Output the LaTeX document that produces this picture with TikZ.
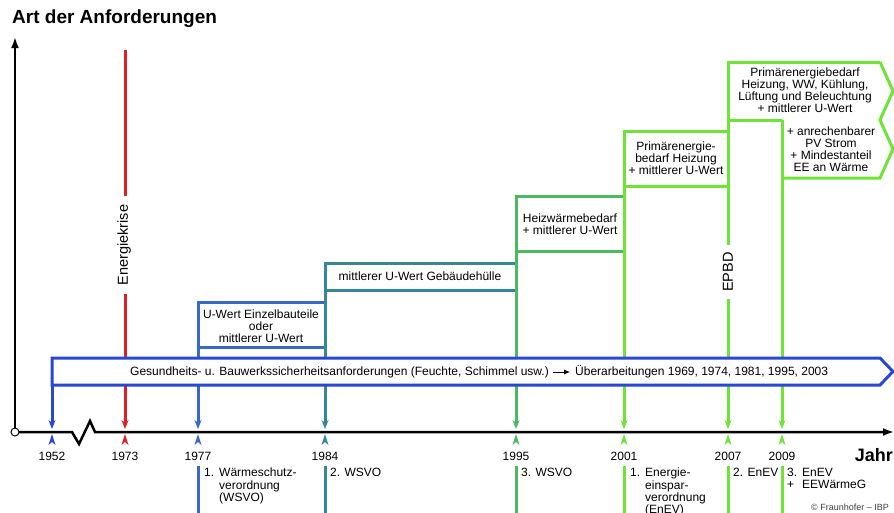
\documentclass[tikz,border=0pt]{standalone}
\usepackage{fontspec}
\setmainfont{Liberation Sans}
\usetikzlibrary{arrows.meta}
\definecolor{cBand}{RGB}{40,70,215}
\definecolor{cBlue}{RGB}{55,105,200}
\definecolor{cTeal}{RGB}{55,135,155}
\definecolor{cGreen}{RGB}{75,185,95}
\definecolor{cLG}{RGB}{110,228,55}
\definecolor{cRed}{RGB}{225,30,35}
\tikzset{
  txt/.style={font=\fontsize{12}{12}\selectfont, inner sep=0pt},
  lowtxt/.style={font=\fontsize{12}{11.5}\selectfont, inner sep=0pt, anchor=north west},
  yrline/.style={line width=3pt, -{Stealth[length=9pt,width=7pt]}},
  boxline/.style={line width=3pt},
  lowline/.style={line width=3pt},
  axisline/.style={line width=2.5pt, line join=miter},
  rottxt/.style={font=\fontsize{14.5}{15}\selectfont, rotate=90, fill=white, inner ysep=1pt},
}
\newcommand{\uptri}[2]{\fill[#1] (#2-3.5,445) -- (#2,434) -- (#2+3.5,445) -- (#2,442) -- cycle;}
\begin{document}
\begin{tikzpicture}[x=1pt,y=-1pt]
\useasboundingbox (0,0) rectangle (894,512);
\clip (0,0) rectangle (894,512);

% title
\node[font=\bfseries\fontsize{19}{21}\selectfont, anchor=west, inner sep=0pt] (title) at (12,19) {Art der Anforderungen};

% red line 1973
\draw[yrline, cRed] (125,50) -- (125,429);
\node[rottxt, inner xsep=9pt] (ek) at (124,245) {Energiekrise};

% 1977 box
\draw[boxline, cBlue] (325,302) -- (325,358);
\draw[yrline, cBlue] (325,302) -- (198,302) -- (198,429);
\draw[boxline, cBlue] (198,347) -- (325,347);
% 1984
\draw[yrline, cTeal] (516,263) -- (325,263) -- (325,429);
\draw[boxline, cTeal] (325,290) -- (516,290);
% 1995
\draw[yrline, cGreen] (624,196) -- (516,196) -- (516,429);
\draw[boxline, cGreen] (516,251) -- (624,251);
% 2001
\draw[yrline, cLG] (728,131) -- (624,131) -- (624,429);
\draw[boxline, cLG] (624,186) -- (728,186);
% 2007 / 2009
\draw[yrline, cLG] (880,62) -- (728,62) -- (728,429);
\draw[boxline, cLG, line join=miter] (880,62) -- (893,91) -- (880,120) -- (893,149) -- (880,178) -- (782,178);
\draw[boxline, cLG] (728,120) -- (782,120);
\draw[yrline, cLG] (782,120) -- (782,429);
\node[rottxt, inner xsep=7pt] (epbd) at (728,272) {EPBD};

% band
\draw[boxline, cBand, fill=white, line join=miter] (52,358) -- (880,358) -- (893,371.5) -- (880,385) -- (52,385) -- cycle;
\draw[yrline, cBand] (52,385) -- (52,429);
\node[txt, anchor=west] (bandL) at (130,372) {Gesundheits- u. Bauwerkssicherheitsanforderungen (Feuchte, Schimmel usw.)};
\node[txt, anchor=west] (bandR) at (575,372) {Überarbeitungen 1969, 1974, 1981, 1995, 2003};
\draw[line width=0.8pt, -{Latex[length=6pt,width=5pt]}] ([xshift=4pt]bandL.east) -- ([xshift=-5pt]bandR.west);

% box texts
\node[txt, align=center] (t1) at (261,326) {U-Wert Einzelbauteile\\oder\\mittlerer U-Wert};
\node[txt, align=center] (t2) at (420,276) {mittlerer U-Wert Gebäudehülle};
\node[txt, align=center] (t3) at (570,224) {Heizwärmebedarf\\+ mittlerer U-Wert};
\node[txt, align=center] (t4) at (676,158) {Primärenergie-\\bedarf Heizung\\+ mittlerer U-Wert};
\node[txt, align=center] (t5) at (805,90) {Primärenergiebedarf\\Heizung, WW, Kühlung,\\Lüftung und Beleuchtung\\+ mittlerer U-Wert};
\node[txt, align=center] (t6) at (831,149) {+ anrechenbarer\\PV Strom\\+ Mindestanteil\\EE an Wärme};

% axes
\coordinate (O) at (15,432);
\coordinate (Ytop) at (15,37);
\coordinate (Xend) at (894,432);
\coordinate (z1) at (72,432);
\coordinate (z2) at (79,444);
\coordinate (z3) at (90,421);
\coordinate (z4) at (95,432);
\draw[axisline, -{Latex[length=11pt,width=8pt]}] (O) -- (Ytop);
\draw[axisline, -{Latex[length=11pt,width=8pt]}] (O) -- (z1) -- (z2) -- (z3) -- (z4) -- (Xend);
\node[circle, draw, fill=white, line width=1pt, minimum size=8pt, inner sep=0pt] (orig) at (O) {};

% up triangles
\uptri{cBand}{52}
\uptri{cRed}{125}
\uptri{cBlue}{198}
\uptri{cTeal}{325}
\uptri{cGreen}{516}
\uptri{cLG}{624}
\uptri{cLG}{728}
\uptri{cLG}{782}

% year labels
\node[txt] (y1952) at (52,456) {1952};
\node[txt] (y1973) at (125,456) {1973};
\node[txt] (y1977) at (198,456) {1977};
\node[txt] (y1984) at (325,456) {1984};
\node[txt] (y1995) at (516,456) {1995};
\node[txt] (y2001) at (624,456) {2001};
\node[txt] (y2007) at (728,456) {2007};
\node[txt] (y2009) at (782,456) {2009};
\node[font=\bfseries\fontsize{18}{20}\selectfont, anchor=east, inner sep=0pt] (jahr) at (893,455) {Jahr};

% lower lines
\draw[lowline, cBlue] (198,466) -- (198,514);
\draw[lowline, cTeal] (325,466) -- (325,514);
\draw[lowline, cGreen] (516,466) -- (516,514);
\draw[lowline, cLG] (624,466) -- (624,514);
\draw[lowline, cLG] (728,466) -- (728,514);
\draw[lowline, cLG] (782,466) -- (782,514);

% lower texts
\node[lowtxt] (l1) at (204,468) {\begin{tabular}{@{}l@{\hspace{5pt}}l@{}}1.&Wärmeschutz-\\&verordnung\\&(WSVO)\end{tabular}};
\node[lowtxt] (l2) at (330,468) {2. WSVO};
\node[lowtxt] (l3) at (521,468) {3. WSVO};
\node[lowtxt] (l4) at (630,468) {\begin{tabular}{@{}l@{\hspace{5pt}}l@{}}1.&Energie-\\&einspar-\\&verordnung\\&(EnEV)\end{tabular}};
\node[lowtxt] (l5) at (733,468) {2. EnEV};
\node[lowtxt] (l6) at (787,468) {\begin{tabular}{@{}l@{\hspace{5pt}}l@{}}3.&EnEV\\+&EEWärmeG\end{tabular}};
\node[font=\fontsize{9}{10}\selectfont, text=black!75, anchor=west, inner sep=0pt] (copy) at (811,507) {© Fraunhofer – IBP};
\end{tikzpicture}
\end{document}
